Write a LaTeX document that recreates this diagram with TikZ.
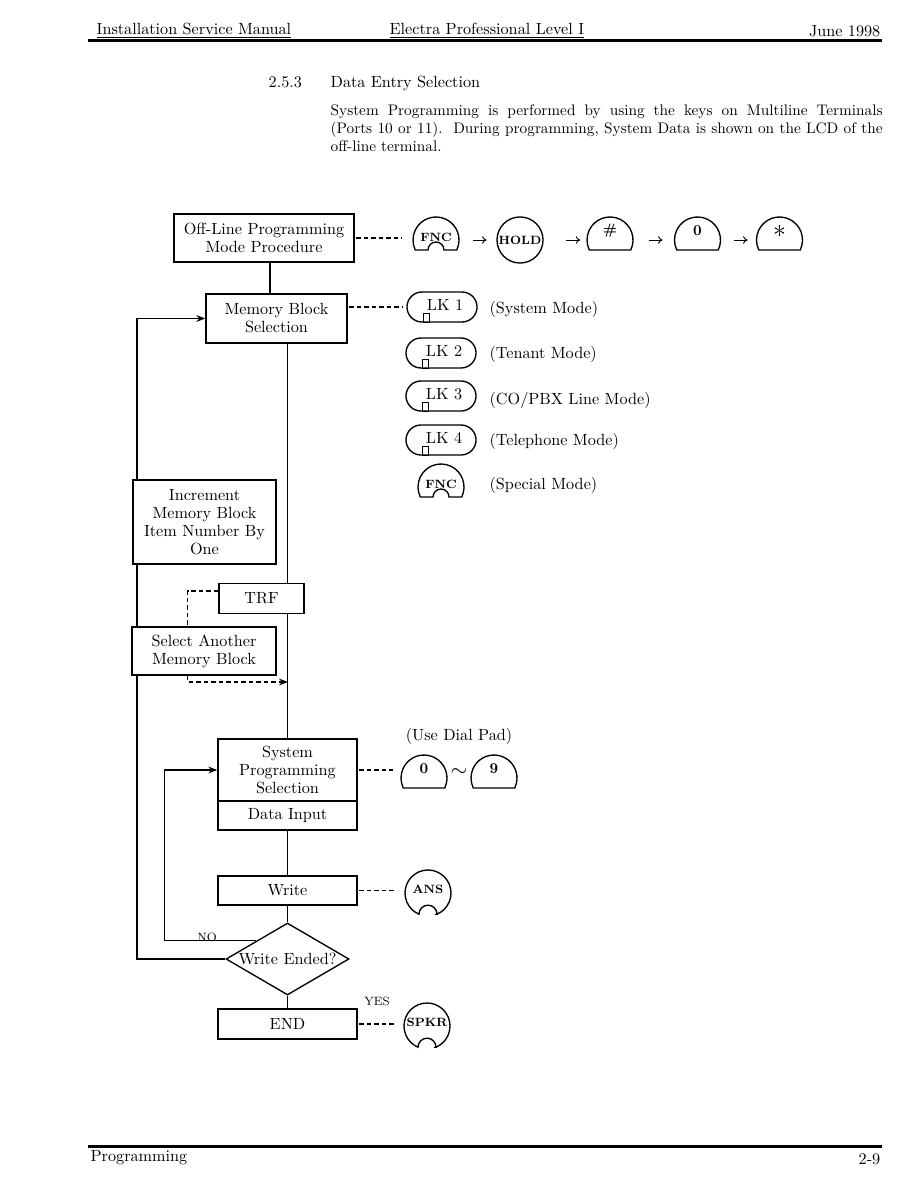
\documentclass[tikz,border=0pt]{standalone}
\usetikzlibrary{shapes.geometric,arrows.meta}
\newcommand{\keystar}{\fontsize{16}{16}\selectfont$\mathbf{\ast}$}

\begin{document}
\begin{tikzpicture}[x=0.6667pt,y=0.6667pt,>={Stealth[length=6pt,width=4.5pt]},
  font=\fontsize{10.8}{12}\selectfont,
  line width=0.9pt,
  txt/.style={inner sep=0pt},
  box/.style={draw,fill=white,align=center,inner sep=1pt},
  dashline/.style={dash pattern=on 3pt off 2pt},
  keytext/.style={font=\fontsize{8}{8}\bfseries\selectfont,inner sep=0pt},
  keyhit/.style={circle,minimum size=30.7pt,inner sep=0pt},
  keyarrow/.style={-{To[length=3pt,width=5pt]},line width=0.6pt},
  domekey/.pic={
    \node[keyhit] (-k) {};
    \draw (-25.8:23) arc[start angle=-25.8,end angle=205.8,radius=23] -- cycle;
    \node[txt,font=\fontsize{10}{10}\bfseries\selectfont] at (0,9) {\tikzpictext};
  },
  fnckey/.pic={
    \node[keyhit] (-k) {};
    \draw (-25.8:23) arc[start angle=-25.8,end angle=205.8,radius=23] -- (-8,-10)
      arc[start angle=180,end angle=0,radius=8] -- cycle;
    \node[keytext] at (0,3) {FNC};
  },
  roundkey/.pic={
    \node[keyhit,draw] (-k) {};
    \node[keytext] {\tikzpictext};
  },
  bumpkey/.pic={
    \node[keyhit] (-k) {};
    \draw (-67:23) arc[start angle=-67,end angle=247,radius=23]
      arc[start angle=180,end angle=0,radius=9] -- cycle;
    \node[keytext] at (0,4) {\tikzpictext};
  },
  lkkey/.pic={
    \node[draw,rounded corners=10pt,minimum width=46.7pt,minimum height=20pt,inner sep=0pt] (-k) {};
    \node[txt] at (3,2) {LK \tikzpictext};
    \draw[line width=0.6pt] (-19,-15) rectangle (-13,-6);
  }]
\useasboundingbox (0,0) rectangle (918,-1188);

% page header
\node[txt,anchor=base west] (hdrleft) at (96,-35) {\underline{Installation Service Manual}};
\node[txt,anchor=base west] (hdrmid) at (389,-35) {\underline{Electra Professional Level I}};
\node[txt,anchor=base east] (hdrright) at (881,-37) {June 1998};
\draw[line width=2pt] (88,-41) -- (882,-41);

\node[txt,anchor=base west] (secnum) at (268,-88) {2.5.3};
\node[txt,anchor=base west] (sectitle) at (330,-88) {Data Entry Selection};
\node[txt,anchor=north west,text width=368pt,align=justify,font=\fontsize{10.2}{12}\selectfont] (intro) at (330,-104)
  {System Programming is performed by using the keys on Multiline Terminals\linebreak
   (Ports 10 or 11).\ \ During programming, System Data is shown on the LCD of the\linebreak
   off-line terminal.};

% flow chart
\node[box,minimum width=120pt,minimum height=32pt] (offline) at (264,-238) {Off-Line Programming\\Mode Procedure};
\node[box,minimum width=94pt,minimum height=32.7pt] (memblk) at (276.5,-318.5) {Memory Block\\Selection};
\node[box,minimum width=95.3pt,minimum height=56pt] (incr) at (204.5,-522) {Increment\\Memory Block\\Item Number By\\One};
\node[box,minimum width=56.7pt,minimum height=20pt] (trf) at (261.5,-598.5) {TRF};
\node[box,minimum width=96pt,minimum height=32pt] (selanother) at (204,-651) {Select Another\\Memory Block};
\node[box,minimum width=92.7pt,minimum height=41.3pt] (sysprog) at (287.5,-770) {System\\Programming\\Selection};
\node[box,minimum width=92.7pt,minimum height=19.3pt] (datain) at (287.5,-815.5) {Data Input};
\node[box,minimum width=92.7pt,minimum height=19.3pt] (write) at (287.5,-890.5) {Write};
\node[box,diamond,aspect=1.7,minimum width=82pt,minimum height=48pt,inner sep=0pt] (ended) at (287.5,-959) {Write Ended?};
\node[box,minimum width=92.7pt,minimum height=20pt] (endbox) at (287.5,-1024) {END};

\coordinate (loopturn) at (137,-959);
\coordinate (trfjoin) at (288,-682);

\draw ([xshift=4pt]offline.south) -- ([xshift=4pt]offline.south |- memblk.north);
\draw (sysprog.north |- memblk.south) -- (sysprog.north |- trf.north);
\draw (sysprog.north |- trf.south) -- (sysprog.north);
\draw (datain) -- (write);
\draw (write) -- (ended);
\draw (ended) -- (endbox);
\draw (ended.west) -- (loopturn) -- (loopturn |- selanother.south);
\draw (loopturn |- selanother.north) -- (loopturn |- incr.south);
\draw[->] (loopturn |- incr.north) |- (memblk.west);
\draw[->] (ended.north west) -- ++(-92,0) |- (sysprog.west);
\draw[dashline] ([yshift=5pt]trf.west) -| ([xshift=-11pt]selanother.north);
\draw[dashline,->] ([xshift=-11pt]selanother.south) |- (trfjoin);

\node[txt,font=\fontsize{8}{8}\selectfont] (nolbl) at (207,-937) {NO};
\node[txt,font=\fontsize{8}{8}\selectfont] (yeslbl) at (377,-1001) {YES};

% keys
\pic (kfnc) at (436,-240) {fnckey};
\pic[pic text=HOLD] (khold) at (520,-240) {roundkey};
\pic[pic text=\#] (khash) at (610,-240) {domekey};
\pic[pic text=0] (kzero) at (697.5,-240) {domekey};
\pic[pic text=\keystar] (kstar) at (779.5,-240) {domekey};
\draw[keyarrow,shorten <=9pt,shorten >=6.5pt] (kfnc-k) -- (khold-k);
\draw[keyarrow,shorten <=15pt,shorten >=4pt] (khold-k) -- (khash-k);
\draw[keyarrow,shorten <=10pt,shorten >=7.5pt] (khash-k) -- (kzero-k);
\draw[keyarrow,shorten <=8.5pt,shorten >=5.5pt] (kzero-k) -- (kstar-k);

\pic[pic text=1] (klk1) at (442,-307) {lkkey};
\pic[pic text=2] (klk2) at (441,-353) {lkkey};
\pic[pic text=3] (klk3) at (441,-396) {lkkey};
\pic[pic text=4] (klk4) at (441,-440) {lkkey};
\pic (kspecial) at (441,-487) {fnckey};
\node[txt,anchor=west] (sysmode) at (489,-309) {(System Mode)};
\node[txt,anchor=west] (tenmode) at (489,-354) {(Tenant Mode)};
\node[txt,anchor=west] (comode) at (489,-400) {(CO/PBX Line Mode)};
\node[txt,anchor=west] (telmode) at (489,-441) {(Telephone Mode)};
\node[txt,anchor=west] (spmode) at (489,-485) {(Special Mode)};

\node[txt] (dialpad) at (459,-736) {(Use Dial Pad)};
\pic[pic text=0] (kdial0) at (424,-778) {domekey};
\pic[pic text=9] (kdial9) at (494,-778) {domekey};
\node[txt] (tilde) at (459,-773) {\Large$\sim$};

\pic[pic text=ANS] (kans) at (428,-893) {bumpkey};
\pic[pic text=SPKR] (kspkr) at (427,-1026) {bumpkey};

\draw[dashline,shorten <=1pt,shorten >=7pt] (offline.east) -- (offline.east -| kfnc-k.west);
\draw[dashline,shorten <=1pt,shorten >=2pt] (memblk.east |- klk1-k) -- (klk1-k.west);
\draw[dashline,shorten <=1pt,shorten >=5pt] (sysprog.east) -- (sysprog.east -| kdial0-k.west);
\draw[dashline,shorten <=1pt,shorten >=6pt] (write.east) -- (write.east -| kans-k.west);
\draw[dashline,shorten <=1pt,shorten >=5pt] (endbox.east) -- (endbox.east -| kspkr-k.west);

% page footer
\draw[line width=2pt] (88,-1146) -- (882,-1146);
\node[txt,anchor=base west] (ftrleft) at (90,-1161) {Programming};
\node[txt,anchor=base east] (ftrright) at (881,-1164) {2-9};
\end{tikzpicture}
\end{document}
